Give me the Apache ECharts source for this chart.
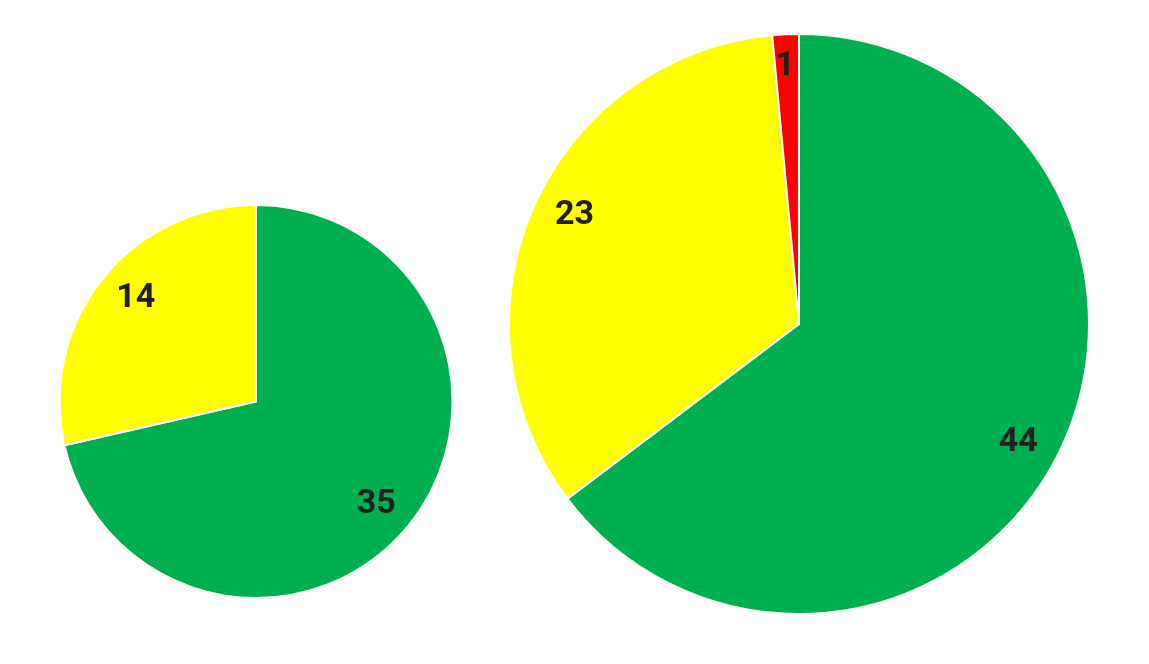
<!DOCTYPE html>
<html>
<head>
<meta charset="utf-8">
<script src="https://cdn.jsdelivr.net/npm/echarts@6/dist/echarts.min.js"></script>
<style>
html,body{margin:0;padding:0;background:#fff;}
#main{width:1149px;height:664px;}
</style>
</head>
<body>
<div id="main"></div>
<script>
const categoriesLeft = ['Green', 'Yellow'];
const valuesLeft = [35, 14];
const colorsLeft = ['#00B050', '#FFFF00'];

const categoriesRight = ['Green', 'Yellow', 'Red'];
const valuesRight = [44, 23, 1];
const colorsRight = ['#00B050', '#FFFF00', '#FF0000'];

// small label nudges (pixels) per slice, style only
const labelOffsetsLeft = [[0, 0], [0, 0]];
const labelOffsetsRight = [[0, 0], [0, 0], [-11, -8]];

function pieData(cats, vals, cols) {
  return cats.map((c, i) => ({ name: c, value: vals[i], itemStyle: { color: cols[i] } }));
}
function labelData(cats, vals, offs) {
  return cats.map((c, i) => ({ name: c, value: vals[i], label: { offset: offs[i] } }));
}

const labelStyle = {
  show: true,
  position: 'inside',
  formatter: '{c}',
  color: '#1f1f1f',
  fontFamily: 'Roboto',
  fontWeight: 'bold',
  fontSize: 34
};

const chart = echarts.init(document.getElementById('main'));
chart.setOption({
  animation: false,
  backgroundColor: '#ffffff',
  series: [
    {
      type: 'pie', center: [256, 401.5], radius: [0, 196.5], startAngle: 90, clockwise: true,
      silent: true, label: { show: false }, labelLine: { show: false },
      itemStyle: { borderColor: '#ffffff', borderWidth: 2 },
      emphasis: { disabled: true },
      data: pieData(categoriesLeft, valuesLeft, colorsLeft)
    },
    {
      type: 'pie', center: [256, 401.5], radius: [114, 196.5], startAngle: 88, clockwise: true,
      silent: true, label: labelStyle, labelLine: { show: false },
      itemStyle: { color: 'rgba(0,0,0,0)', borderWidth: 0 },
      emphasis: { disabled: true },
      data: labelData(categoriesLeft, valuesLeft, labelOffsetsLeft)
    },
    {
      type: 'pie', center: [799, 324], radius: [0, 290], startAngle: 90, clockwise: true,
      silent: true, label: { show: false }, labelLine: { show: false },
      itemStyle: { borderColor: '#ffffff', borderWidth: 2 },
      emphasis: { disabled: true },
      data: pieData(categoriesRight, valuesRight, colorsRight)
    },
    {
      type: 'pie', center: [799, 324], radius: [203, 290], startAngle: 88, clockwise: true,
      silent: true, label: labelStyle, labelLine: { show: false },
      itemStyle: { color: 'rgba(0,0,0,0)', borderWidth: 0 },
      emphasis: { disabled: true },
      data: labelData(categoriesRight, valuesRight, labelOffsetsRight)
    }
  ]
});
</script>
</body>
</html>
